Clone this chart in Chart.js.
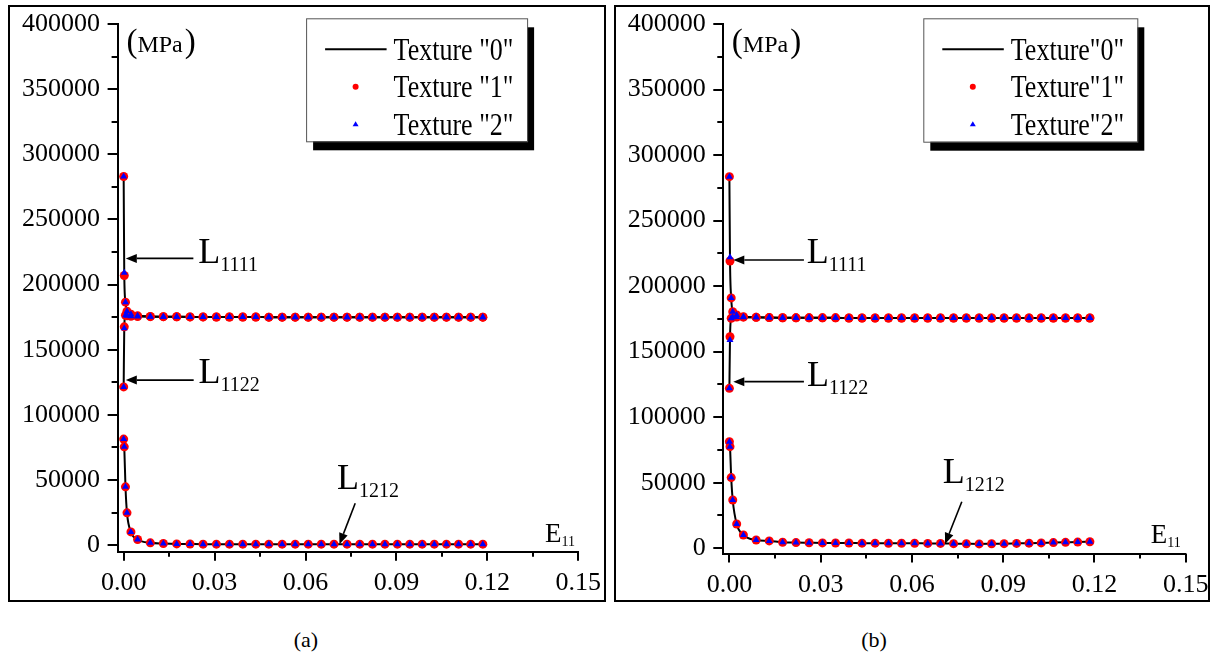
<!DOCTYPE html>
<html><head><meta charset="utf-8">
<script src="https://cdn.jsdelivr.net/npm/chart.js@4.4.0/dist/chart.umd.min.js"></script>
<style>
html,body{margin:0;padding:0;background:#fff;}
body{width:1211px;height:655px;position:relative;overflow:hidden;font-family:'Liberation Serif','Times New Roman',serif;}
canvas{position:absolute;top:0;}
#ca{left:0;} #cb{left:605px;}
.box{position:absolute;border:2px solid #000;box-sizing:border-box;pointer-events:none;}
.cap{position:absolute;font-size:22px;line-height:22px;width:60px;text-align:center;color:#000;}
</style></head><body>
<canvas id="ca" width="606" height="612" style="width:606px;height:612px"></canvas>
<canvas id="cb" width="606" height="612" style="width:606px;height:612px"></canvas>
<div class="box" style="left:8px;top:5px;width:598px;height:597px"></div>
<div class="box" style="left:614px;top:5px;width:596px;height:597px"></div>
<div class="cap" style="left:276px;top:629px">(a)</div>
<div class="cap" style="left:844px;top:629px">(b)</div>
<script>
const FONT = "'Liberation Serif', 'Times New Roman', serif";

// strain E11 (x values)
const strain = [0, 0.0002, 0.0006, 0.0011, 0.0024, 0.0046, 0.0088, 0.0131, 0.0175, 0.0219, 0.0262, 0.0306, 0.0349, 0.0393, 0.0436, 0.0479, 0.0523, 0.0566, 0.0609, 0.0652, 0.0694, 0.0737, 0.0779, 0.0821, 0.0862, 0.0903, 0.0944, 0.0985, 0.1025, 0.1065, 0.1105, 0.1145, 0.1185];

const yMajorTicks = [0, 50000, 100000, 150000, 200000, 250000, 300000, 350000, 400000];
const yMinorTicks = [25000, 75000, 125000, 175000, 225000, 275000, 325000, 375000];
const xMajorTicks = [0, 0.03, 0.06, 0.09, 0.12, 0.15];
const xMinorTicks = [0.015, 0.045, 0.075, 0.105, 0.135];

const legendLabelsA = ['Texture "0"', 'Texture "1"', 'Texture "2"'];
const legendLabelsB = ['Texture"0"', 'Texture"1"', 'Texture"2"'];

// Panel (a)
const aL1111_T0 = [283000, 208000, 186500, 179500, 177300, 176000, 175600, 175400, 175300, 175200, 175200, 175100, 175100, 175100, 175100, 175000, 175000, 175000, 175000, 175000, 175000, 175000, 175000, 175000, 175000, 175000, 175000, 175000, 175000, 175000, 175000, 175000, 175000];
const aL1111_T1 = [283000, 207000, 186500, 179500, 177300, 176000, 175600, 175400, 175300, 175200, 175200, 175100, 175100, 175100, 175100, 175000, 175000, 175000, 175000, 175000, 175000, 175000, 175000, 175000, 175000, 175000, 175000, 175000, 175000, 175000, 175000, 175000, 175000];
const aL1111_T2 = [283000, 209000, 186500, 179500, 177300, 176000, 175600, 175400, 175300, 175200, 175200, 175100, 175100, 175100, 175100, 175000, 175000, 175000, 175000, 175000, 175000, 175000, 175000, 175000, 175000, 175000, 175000, 175000, 175000, 175000, 175000, 175000, 175000];
const aL1122_T0 = [121500, 167000, 176500, 176000, 175700, 175500, 175400, 175400, 175300, 175200, 175200, 175100, 175100, 175100, 175100, 175000, 175000, 175000, 175000, 175000, 175000, 175000, 175000, 175000, 175000, 175000, 175000, 175000, 175000, 175000, 175000, 175000, 175000];
const aL1122_T1 = [121500, 167600, 176500, 176000, 175700, 175500, 175400, 175400, 175300, 175200, 175200, 175100, 175100, 175100, 175100, 175000, 175000, 175000, 175000, 175000, 175000, 175000, 175000, 175000, 175000, 175000, 175000, 175000, 175000, 175000, 175000, 175000, 175000];
const aL1122_T2 = [121500, 166400, 176500, 176000, 175700, 175500, 175400, 175400, 175300, 175200, 175200, 175100, 175100, 175100, 175100, 175000, 175000, 175000, 175000, 175000, 175000, 175000, 175000, 175000, 175000, 175000, 175000, 175000, 175000, 175000, 175000, 175000, 175000];
const aL1212_T0 = [81400, 75500, 44800, 24800, 10200, 4400, 1800, 1300, 1000, 900, 800, 800, 800, 800, 800, 800, 800, 800, 800, 800, 800, 800, 800, 800, 800, 800, 800, 800, 800, 800, 800, 800, 800];
const aL1212_T1 = [81400, 75500, 44800, 24800, 10200, 4400, 1800, 1300, 1000, 900, 800, 800, 800, 800, 800, 800, 800, 800, 800, 800, 800, 800, 800, 800, 800, 800, 800, 800, 800, 800, 800, 800, 800];
const aL1212_T2 = [81400, 75500, 44800, 24800, 10200, 4400, 1800, 1300, 1000, 900, 800, 800, 800, 800, 800, 800, 800, 800, 800, 800, 800, 800, 800, 800, 800, 800, 800, 800, 800, 800, 800, 800, 800];

// Panel (b)
const bL1111_T0 = [283500, 220500, 191000, 180500, 178000, 176700, 176200, 176000, 175900, 175800, 175800, 175800, 175800, 175700, 175700, 175700, 175700, 175700, 175700, 175700, 175700, 175700, 175700, 175700, 175700, 175700, 175700, 175700, 175700, 175700, 175700, 175700, 175700];
const bL1111_T1 = [283500, 219200, 191000, 180500, 178000, 176700, 176200, 176000, 175900, 175800, 175800, 175800, 175800, 175700, 175700, 175700, 175700, 175700, 175700, 175700, 175700, 175700, 175700, 175700, 175700, 175700, 175700, 175700, 175700, 175700, 175700, 175700, 175700];
const bL1111_T2 = [283500, 222000, 191000, 180500, 178000, 176700, 176200, 176000, 175900, 175800, 175800, 175800, 175800, 175700, 175700, 175700, 175700, 175700, 175700, 175700, 175700, 175700, 175700, 175700, 175700, 175700, 175700, 175700, 175700, 175700, 175700, 175700, 175700];
const bL1122_T0 = [122000, 160200, 175500, 176300, 176400, 176300, 176200, 176000, 175900, 175800, 175800, 175800, 175800, 175700, 175700, 175700, 175700, 175700, 175700, 175700, 175700, 175700, 175700, 175700, 175700, 175700, 175700, 175700, 175700, 175700, 175700, 175700, 175700];
const bL1122_T1 = [122000, 161400, 175500, 176300, 176400, 176300, 176200, 176000, 175900, 175800, 175800, 175800, 175800, 175700, 175700, 175700, 175700, 175700, 175700, 175700, 175700, 175700, 175700, 175700, 175700, 175700, 175700, 175700, 175700, 175700, 175700, 175700, 175700];
const bL1122_T2 = [122000, 158900, 175500, 176300, 176400, 176300, 176200, 176000, 175900, 175800, 175800, 175800, 175800, 175700, 175700, 175700, 175700, 175700, 175700, 175700, 175700, 175700, 175700, 175700, 175700, 175700, 175700, 175700, 175700, 175700, 175700, 175700, 175700];
const bL1212_T0 = [81300, 77500, 53900, 36800, 18500, 10100, 6300, 5600, 4600, 4300, 4200, 4100, 4000, 4000, 3900, 3900, 3800, 3800, 3800, 3700, 3700, 3500, 3400, 3300, 3400, 3500, 3700, 3900, 4100, 4300, 4500, 4700, 5000];
const bL1212_T1 = [81300, 77500, 53900, 36800, 18500, 10100, 6300, 5600, 4600, 4300, 4200, 4100, 4000, 4000, 3900, 3900, 3800, 3800, 3800, 3700, 3700, 3500, 3400, 3300, 3400, 3500, 3700, 3900, 4100, 4300, 4500, 4700, 5000];
const bL1212_T2 = [81300, 77500, 53900, 36800, 18500, 10100, 6300, 5600, 4600, 4300, 4200, 4100, 4000, 4000, 3900, 3900, 3800, 3800, 3800, 3700, 3700, 3500, 3400, 3300, 3400, 3500, 3700, 3900, 4100, 4300, 4500, 4700, 5000];

function pts(arr) { return strain.map((x, i) => ({ x: x, y: arr[i] })); }
function lineDs(arr) {
  return { data: pts(arr), showLine: true, borderColor: '#000', borderWidth: 2, pointRadius: 0,
           cubicInterpolationMode: 'monotone', order: 3, clip: false };
}
function redDs(arr) {
  return { data: pts(arr), showLine: false, pointStyle: 'circle', pointRadius: 4.5,
           pointBackgroundColor: '#ff0000', pointBorderColor: '#ff0000', pointBorderWidth: 0, order: 2, clip: false };
}
function blueDs(arr) {
  return { data: pts(arr), showLine: false, pointStyle: 'triangle', pointRadius: 4,
           pointBackgroundColor: '#0000ff', pointBorderColor: '#0000ff', pointBorderWidth: 0, order: 1, clip: false };
}

function subText(ctx, x, y, main, sub, mf, sf, dy) {
  ctx.font = mf; ctx.fillText(main, x, y);
  const w = ctx.measureText(main).width;
  ctx.font = sf; ctx.fillText(sub, x + w, y + dy);
}
function arrow(ctx, x0, y0, x1, y1) {
  const a = Math.atan2(y1 - y0, x1 - x0), hl = 11, hw = 4.5;
  const bx = x1 - hl * Math.cos(a), by = y1 - hl * Math.sin(a);
  ctx.beginPath(); ctx.moveTo(x0, y0); ctx.lineTo(bx, by); ctx.stroke();
  ctx.beginPath(); ctx.moveTo(x1, y1);
  ctx.lineTo(bx + hw * Math.sin(a), by - hw * Math.cos(a));
  ctx.lineTo(bx - hw * Math.sin(a), by + hw * Math.cos(a));
  ctx.closePath(); ctx.fill();
}

const decor = {
  id: 'decor',
  afterDraw(chart, args, o) {
    const ctx = chart.ctx, xs = chart.scales.x, ys = chart.scales.y, ca = chart.chartArea;
    ctx.save();
    ctx.strokeStyle = '#000'; ctx.fillStyle = '#000'; ctx.lineWidth = 2;
    // major / minor tick marks
    ctx.beginPath();
    yMajorTicks.forEach(v => { const p = Math.round(ys.getPixelForValue(v)); ctx.moveTo(ca.left - 10, p); ctx.lineTo(ca.left, p); });
    yMinorTicks.forEach(v => { const p = Math.round(ys.getPixelForValue(v)); ctx.moveTo(ca.left - 6, p); ctx.lineTo(ca.left, p); });
    xMajorTicks.forEach(v => { const p = Math.round(xs.getPixelForValue(v)); ctx.moveTo(p, ca.bottom); ctx.lineTo(p, ca.bottom + 9); });
    xMinorTicks.forEach(v => { const p = Math.round(xs.getPixelForValue(v)); ctx.moveTo(p, ca.bottom); ctx.lineTo(p, ca.bottom + 5); });
    ctx.stroke();

    // (MPa)
    let px = xs.getPixelForValue(o.mpa.x), py = ys.getPixelForValue(o.mpa.y);
    ctx.textAlign = 'left'; ctx.textBaseline = 'alphabetic';
    ctx.font = '33px ' + FONT; ctx.fillText('(', px, py);
    px += ctx.measureText('(').width;
    ctx.font = '24px ' + FONT; ctx.fillText('MPa', px, py);
    px += ctx.measureText('MPa').width + 2;
    ctx.font = '33px ' + FONT; ctx.fillText(')', px, py);

    // E11
    subText(ctx, xs.getPixelForValue(o.e11.x), ys.getPixelForValue(o.e11.y), 'E', '11',
            '27px ' + FONT, '14px ' + FONT, 4.5);

    // L labels and arrows
    o.labels.forEach(l => subText(ctx, xs.getPixelForValue(l.x), ys.getPixelForValue(l.y), 'L', l.sub,
            '36px ' + FONT, '20px ' + FONT, 8));
    ctx.lineWidth = 1.6;
    o.arrows.forEach(a => arrow(ctx, xs.getPixelForValue(a.x0), ys.getPixelForValue(a.y0),
                                     xs.getPixelForValue(a.x1), ys.getPixelForValue(a.y1)));

    // legend box with drop shadow
    const L = o.legend;
    const bx = ca.left + L.dx, by = L.top;
    ctx.fillStyle = '#000'; ctx.fillRect(bx + 7, by + 9, L.w, L.h);
    ctx.fillStyle = '#fff'; ctx.fillRect(bx, by, L.w, L.h);
    ctx.strokeStyle = '#555'; ctx.lineWidth = 1; ctx.strokeRect(bx + 0.5, by + 0.5, L.w, L.h);
    const rows = [31, 68.5, 106];
    ctx.strokeStyle = '#000'; ctx.lineWidth = 2;
    ctx.beginPath(); ctx.moveTo(bx + 19, by + rows[0]); ctx.lineTo(bx + 80.5, by + rows[0]); ctx.stroke();
    ctx.fillStyle = '#ff0000';
    ctx.beginPath(); ctx.arc(bx + 49.5, by + rows[1], 3, 0, Math.PI * 2); ctx.fill();
    ctx.fillStyle = '#0000ff';
    ctx.beginPath(); const tx = bx + 49.5, ty = by + rows[2];
    ctx.moveTo(tx, ty - 3); ctx.lineTo(tx + 3, ty + 2); ctx.lineTo(tx - 3, ty + 2); ctx.closePath(); ctx.fill();
    ctx.fillStyle = '#000'; ctx.font = '26px ' + FONT;
    L.labels.forEach((t, i) => {
      ctx.save(); ctx.translate(bx + 87.5, by + rows[i] + 10.5); ctx.scale(1, 1.2);
      ctx.fillText(t, 0, 0); ctx.restore();
    });
    ctx.restore();
  }
};

function makeChart(id, sets, yMin, target, deco) {
  const ch = new Chart(document.getElementById(id), {
    type: 'scatter',
    data: { datasets: [
      lineDs(sets[0]), lineDs(sets[3]), lineDs(sets[6]),
      redDs(sets[1]), redDs(sets[4]), redDs(sets[7]),
      blueDs(sets[2]), blueDs(sets[5]), blueDs(sets[8])
    ] },
    options: {
      responsive: false, animation: false, devicePixelRatio: 1,
      layout: { padding: { left: 0, top: target.top, right: 606 - target.right, bottom: 612 - target.bottom - 50 } },
      plugins: { legend: { display: false }, tooltip: { enabled: false }, decor: deco },
      scales: {
        x: {
          type: 'linear', min: -0.002, max: 0.15,
          afterBuildTicks: s => { s.ticks = xMajorTicks.map(v => ({ value: v })); },
          afterFit: s => { s.height = 50; s.paddingLeft = 0; s.paddingRight = 0; },
          grid: { display: false, drawTicks: false },
          border: { display: true, color: '#000', width: 2 },
          ticks: { autoSkip: false, maxRotation: 0, padding: 16, color: '#000',
                   font: { family: FONT, size: 26 }, callback: v => Number(v).toFixed(2) }
        },
        y: {
          type: 'linear', min: yMin, max: 400000,
          afterBuildTicks: s => { s.ticks = yMajorTicks.map(v => ({ value: v })); },
          afterFit: s => { s.width = target.left; s.paddingTop = 0; s.paddingBottom = 0; },
          grid: { display: false, drawTicks: false },
          border: { display: true, color: '#000', width: 2 },
          ticks: { autoSkip: false, padding: 17.5, color: '#000',
                   font: { family: FONT, size: 26 }, callback: v => String(v) }
        }
      }
    },
    plugins: [decor]
  });
  return ch;
}

makeChart('ca', [aL1111_T0, aL1111_T1, aL1111_T2, aL1122_T0, aL1122_T1, aL1122_T2, aL1212_T0, aL1212_T1, aL1212_T2],
  -5000, { left: 117.6, top: 24, right: 578.3, bottom: 551.7 }, {
    mpa: { x: 0.0009, y: 378500 },
    e11: { x: 0.139, y: 2500 },
    labels: [{ sub: '1111', x: 0.0246, y: 216500 }, { sub: '1122', x: 0.0247, y: 124100 }, { sub: '1212', x: 0.0704, y: 42800 }],
    arrows: [{ x0: 0.0230, y0: 220100, x1: 0.0007, y1: 220100 },
             { x0: 0.0231, y0: 126700, x1: 0.0007, y1: 126700 },
             { x0: 0.0764, y0: 32200, x1: 0.0712, y1: 800 }],
    legend: { dx: 188.5, top: 18.3, w: 221, h: 123, labels: legendLabelsA }
  });

makeChart('cb', [bL1111_T0, bL1111_T1, bL1111_T2, bL1122_T0, bL1122_T1, bL1122_T2, bL1212_T0, bL1212_T1, bL1212_T2],
  -4000, { left: 118.3, top: 24, right: 580.7, bottom: 553.5 }, {
    mpa: { x: 0.0008, y: 378600 },
    e11: { x: 0.1385, y: 4300 },
    labels: [{ sub: '1111', x: 0.0254, y: 217400 }, { sub: '1122', x: 0.0255, y: 124000 }, { sub: '1212', x: 0.0701, y: 49600 }],
    arrows: [{ x0: 0.0245, y0: 219900, x1: 0.0013, y1: 219900 },
             { x0: 0.0245, y0: 127100, x1: 0.0013, y1: 127100 },
             { x0: 0.0764, y0: 35500, x1: 0.0709, y1: 3300 }],
    legend: { dx: 200, top: 18.3, w: 214, h: 123.4, labels: legendLabelsB }
  });
</script>
</body></html>
